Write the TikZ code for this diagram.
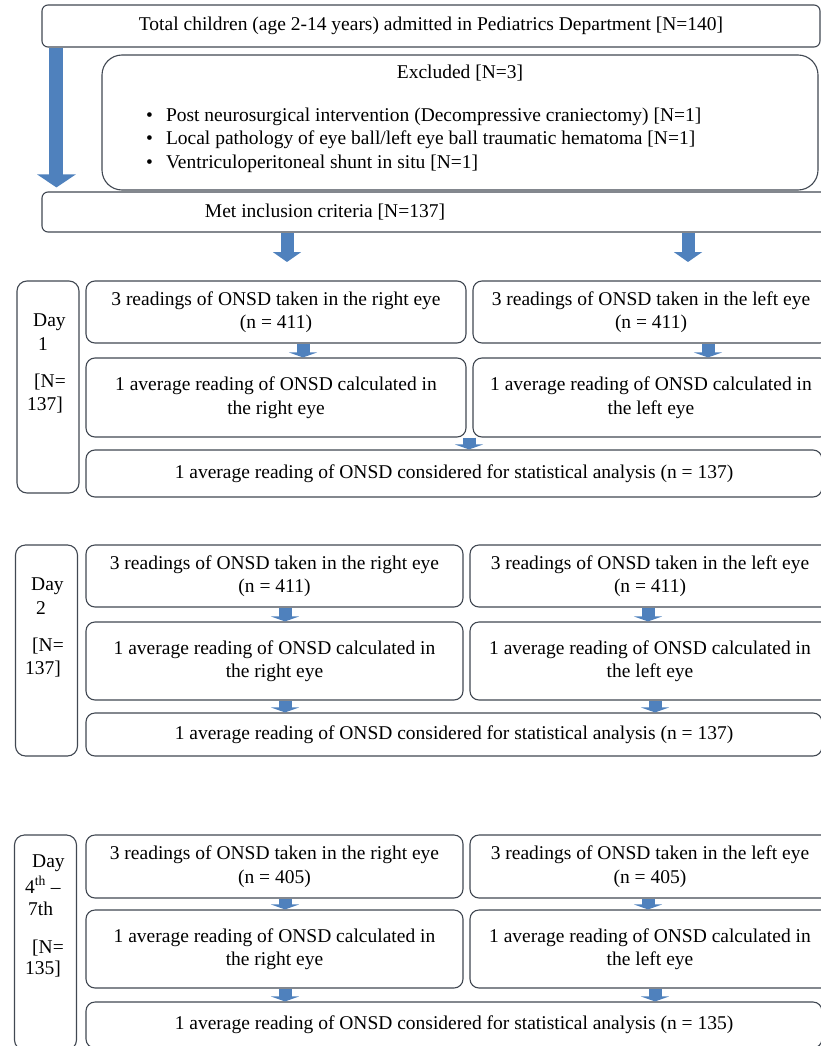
\documentclass[tikz,border=0pt]{standalone}
\usepackage{fontspec}
\setmainfont{Liberation Serif}
\usetikzlibrary{arrows.meta,positioning}
\definecolor{boxline}{RGB}{65,72,82}
\definecolor{arrowblue}{RGB}{79,129,189}

\begin{document}
\begin{tikzpicture}[x=1pt,y=-1pt,
    font=\fontsize{19.5}{23.5}\selectfont,
    box/.style={draw=boxline, fill=white, line width=1.1pt, rounded corners=9pt, inner sep=0pt, align=center},
    daybox/.style={box, rounded corners=10pt, minimum width=62pt},
    bigarrow/.style={arrowblue, line width=14pt, -{Triangle[width=38pt,length=13pt]}},
    midarrow/.style={arrowblue, line width=13pt, -{Triangle[width=28pt,length=10pt]}},
    smallarrow/.style={arrowblue, line width=13pt, -{Triangle[width=28pt,length=5pt]}}]
            \useasboundingbox (0,0) rectangle (821,1046);

            % admission and exclusion
            \node[box, rounded corners=6pt, minimum width=778pt, minimum height=42pt] (total) at (431,26) {Total children (age 2-14 years) admitted in Pediatrics Department [N=140]};
            \node[box, rounded corners=20pt, minimum width=716pt, minimum height=135pt] (excl) at (460,122.5) {};
            \node (excltitle) at (460,73) {Excluded [N=3]};
            \node[anchor=west, inner sep=0pt] (excllist) at (146,140) {\begin{tabular}{@{}l@{\hspace{13pt}}l@{}}
                \textbullet & Post neurosurgical intervention (Decompressive craniectomy) [N=1]\\
                \textbullet & Local pathology of eye ball/left eye ball traumatic hematoma [N=1]\\
                \textbullet & Ventriculoperitoneal shunt in situ [N=1]
            \end{tabular}};
            \node[box, rounded corners=6pt, minimum width=790pt, minimum height=40pt,
                label={[xshift=-112pt]center:{Met inclusion criteria [N=137]}}] (met) at (437,212) {};
            \coordinate (goright) at (287,262);
            \coordinate (goleft) at (688,262);

            \draw[bigarrow] ([xshift=15pt]total.south west) -- ([xshift=15pt,yshift=4pt]met.north west);
            \draw[midarrow] (met.south -| goright) -- (goright);
            \draw[midarrow] (met.south -| goleft) -- (goleft);

            % day 1
            \node[daybox, minimum height=212pt] (day1) at (48,387) {};
            \node[anchor=north west, align=left, inner sep=0pt] (day1txt) at (27,314) {\hspace*{6pt}Day\\\hspace*{11pt}1\\[13.5pt]\hspace*{7pt}[N=\\137]};
            \node[box, minimum width=380pt, minimum height=62pt] (right1) at (276,312) {3 readings of ONSD taken in the right eye\\(n = 411)};
            \node[box, minimum width=356pt, minimum height=62pt] (left1) at (651,312) {3 readings of ONSD taken in the left eye\\(n = 411)};
            \node[box, minimum width=380pt, minimum height=79pt] (rightavg1) at (276,397.5) {1 average reading of ONSD calculated in\\the right eye};
            \node[box, minimum width=356pt, minimum height=79pt] (leftavg1) at (651,397.5) {1 average reading of ONSD calculated in\\the left eye};
            \node[box, minimum width=736pt, minimum height=47pt] (stat1) at (454,473.5) {1 average reading of ONSD considered for statistical analysis (n = 137)};

            \draw[smallarrow] ([xshift=27pt]right1.south) -- ([xshift=27pt]rightavg1.north);
            \draw[smallarrow] ([xshift=57pt]left1.south) -- ([xshift=57pt]leftavg1.north);
            \draw[smallarrow] ([xshift=193pt]rightavg1.south) -- ([xshift=15pt]stat1.north);

            % day 2
            \node[daybox, minimum height=211pt] (day2) at (46.5,650.5) {};
            \node[anchor=north west, align=left, inner sep=0pt] (day2txt) at (25,578) {\hspace*{6pt}Day\\\hspace*{11pt}2\\[13.5pt]\hspace*{7pt}[N=\\137]};
            \node[box, minimum width=377pt, minimum height=62pt] (right2) at (274.5,576) {3 readings of ONSD taken in the right eye\\(n = 411)};
            \node[box, minimum width=360pt, minimum height=62pt] (left2) at (650,576) {3 readings of ONSD taken in the left eye\\(n = 411)};
            \node[box, minimum width=377pt, minimum height=78pt] (rightavg2) at (274.5,661) {1 average reading of ONSD calculated in\\the right eye};
            \node[box, minimum width=360pt, minimum height=78pt] (leftavg2) at (650,661) {1 average reading of ONSD calculated in\\the left eye};
            \node[box, minimum width=736pt, minimum height=43pt] (stat2) at (454,734.5) {1 average reading of ONSD considered for statistical analysis (n = 137)};

            \draw[smallarrow] ([xshift=10.5pt]right2.south) -- ([xshift=10.5pt]rightavg2.north);
            \draw[smallarrow] ([xshift=-2pt]left2.south) -- ([xshift=-2pt]leftavg2.north);
            \draw[smallarrow] ([xshift=10.5pt]rightavg2.south) -- ([xshift=-169pt]stat2.north);
            \draw[smallarrow] ([xshift=5pt]leftavg2.south) -- ([xshift=201pt]stat2.north);

            % day 4th - 7th
            \node[daybox, minimum height=215pt] (day3) at (45.5,942.5) {};
            \node[anchor=north west, align=left, inner sep=0pt] (day3txt) at (25,854.5) {\hspace*{7pt}Day\\[2.5pt]4\textsuperscript{th} --\\[-1.5pt]\hspace*{3pt}7th\\[14.5pt]\hspace*{7pt}[N=\\[-2.5pt]135]};
            \node[box, minimum width=377pt, minimum height=63pt] (right3) at (274.5,866.5) {3 readings of ONSD taken in the right eye\\(n = 405)};
            \node[box, minimum width=360pt, minimum height=63pt] (left3) at (650,866.5) {3 readings of ONSD taken in the left eye\\(n = 405)};
            \node[box, minimum width=377pt, minimum height=78pt] (rightavg3) at (274.5,949) {1 average reading of ONSD calculated in\\the right eye};
            \node[box, minimum width=360pt, minimum height=78pt] (leftavg3) at (650,949) {1 average reading of ONSD calculated in\\the left eye};
            \node[box, minimum width=736pt, minimum height=46pt] (stat3) at (454,1025) {1 average reading of ONSD considered for statistical analysis (n = 135)};

            \draw[smallarrow] ([xshift=10.5pt]right3.south) -- ([xshift=10.5pt]rightavg3.north);
            \draw[smallarrow] ([xshift=-2pt]left3.south) -- ([xshift=-2pt]leftavg3.north);
            \draw[smallarrow] ([xshift=10.5pt]rightavg3.south) -- ([xshift=-169pt]stat3.north);
            \draw[smallarrow] ([xshift=5pt]leftavg3.south) -- ([xshift=201pt]stat3.north);
        \end{tikzpicture}
\end{document}
